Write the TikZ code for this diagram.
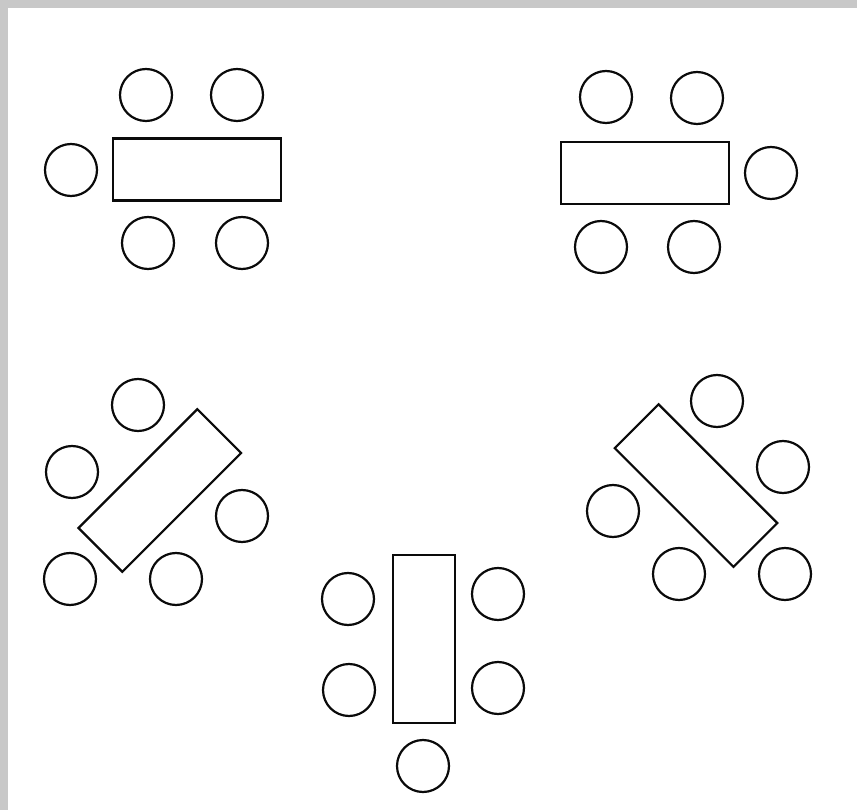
\documentclass[tikz,border=0pt]{standalone}
\usepackage{xcolor}
\usepackage{tikz}
\usetikzlibrary{positioning}
\definecolor{framegray}{RGB}{200,200,200}
\definecolor{inkblack}{RGB}{10,10,10}
\tikzset{
  tablebox/.style={rectangle, draw=inkblack, line width=2.2pt, fill=white,
                   minimum width=168pt, minimum height=62pt, inner sep=0pt},
  chair/.style   ={circle, draw=inkblack, line width=2.2pt, fill=white,
                   minimum size=52pt, inner sep=0pt},
}

\begin{document}
\begin{tikzpicture}[x=1pt, y=-1pt]
\useasboundingbox (0,0) rectangle (857,810);
\fill[framegray] (0,0) rectangle (857,8);
\fill[framegray] (0,0) rectangle (8,810);
% tables
\node[tablebox] (tl) at (197,169.5) {};
\node[tablebox] (tr) at (645,173) {};
\node[tablebox, rotate=45] (bl) at (159.8,490.5) {};
\node[tablebox, rotate=-45] (br) at (696,485.6) {};
\node[tablebox, rotate=90] (bm) at (423.7,639.3) {};
% chairs
\foreach \n/\x/\y in {a/146/95, b/237/95, c/71/170, d/148/243, e/242/243}
  \node[chair] (tl\n) at (\x,\y) {};
\foreach \n/\x/\y in {a/606/97, b/697/98, c/771/173, d/601/247, e/694/247}
  \node[chair] (tr\n) at (\x,\y) {};
\foreach \n/\x/\y in {a/138/405, b/72/472, c/242/516, d/70/579, e/176/579}
  \node[chair] (bl\n) at (\x,\y) {};
\foreach \n/\x/\y in {a/717/401, b/783/467, c/613/511, d/679/574, e/785/574}
  \node[chair] (br\n) at (\x,\y) {};
\foreach \n/\x/\y in {a/348/599, b/498/594, c/349/690, d/498/688, e/423/766}
  \node[chair] (bm\n) at (\x,\y) {};
\end{tikzpicture}
\end{document}
